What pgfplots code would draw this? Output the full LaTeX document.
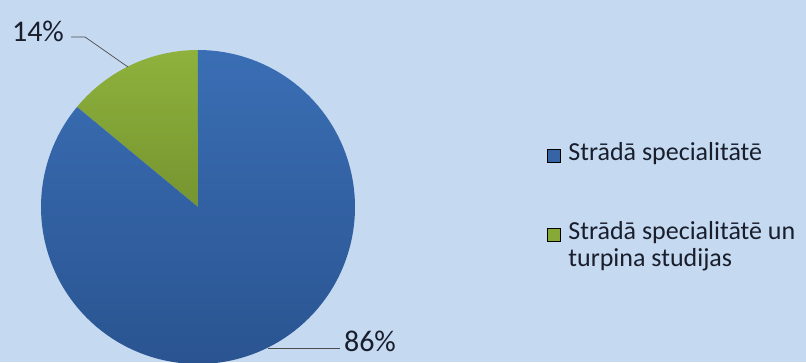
\documentclass[border=0pt]{standalone}
\usepackage{pgfplots}
\pgfplotsset{compat=1.18}
\usepackage{fontspec}
\setmainfont{Carlito}
\definecolor{bgcol}{RGB}{197,217,240}
\definecolor{blueT}{RGB}{58,110,180}
\definecolor{blueB}{RGB}{42,84,145}
\definecolor{greenT}{RGB}{142,178,60}
\definecolor{greenB}{RGB}{118,148,48}
\definecolor{blueL}{RGB}{55,100,165}
\definecolor{greenL}{RGB}{135,170,55}
\definecolor{txt}{RGB}{25,30,45}
\pgfplotsset{sq/.style={legend image code/.code={\fill[##1] (0pt,-8.5pt) rectangle (13pt,4.5pt);}}}
% values (percent)
\def\valA{86}
\def\valB{14}
\begin{document}
\begin{tikzpicture}
\useasboundingbox (0,0) rectangle (806pt,362pt);
\fill[bgcol] (0,0) rectangle (806pt,362pt);
\pgfmathsetmacro{\angB}{90+\valB*3.6}
\pgfmathsetmacro{\angEnd}{90+(\valB+\valA)*3.6}
\begin{axis}[
  at={(0,0)}, anchor=south west,
  width=806pt, height=362pt, scale only axis,
  xmin=0, xmax=806, ymin=0, ymax=362,
  hide axis, clip=true,
  legend style={at={(axis cs:547,221)}, anchor=north west, draw=none, fill=none,
    inner sep=0pt, outer sep=0pt,
    font=\fontsize{26}{28}\selectfont\color{txt},
    row sep=1.5pt,
    nodes={inner sep=0pt, text height=19pt, text depth=6pt},
    column sep=0pt},
  legend cell align=left,
]
\addplot[forget plot, draw=none, top color=greenT, bottom color=greenB,
  domain=90:\angB, samples=60, variable=\t]
  ({198+157*cos(\t)},{155+157*sin(\t)}) -- (axis cs:198,155) -- cycle;
\addplot[forget plot, draw=none, top color=blueT, bottom color=blueB,
  domain=\angB:\angEnd, samples=200, variable=\t]
  ({198+157*cos(\t)},{155+157*sin(\t)}) -- (axis cs:198,155) -- cycle;
\addplot[forget plot, draw=black!70, line width=0.7pt] coordinates {(71,325) (85,325) (128,295)};
\addplot[forget plot, draw=black!70, line width=0.7pt] coordinates {(268,14) (340,14)};
\node[font=\fontsize{30}{32}\selectfont, text=txt] at (axis cs:38,331) {14\%};
\node[font=\fontsize{30}{32}\selectfont, text=txt] at (axis cs:370,21) {86\%};
\addlegendimage{sq, fill=blueL}
\addlegendentry{\hspace*{8pt}Strādā specialitātē}
\addlegendimage{empty legend}
\addlegendentry{}
\addlegendimage{empty legend}
\addlegendentry{}
\addlegendimage{sq, fill=greenL}
\addlegendentry{\hspace*{8pt}Strādā specialitātē un}
\addlegendimage{empty legend}
\addlegendentry{\hspace*{8pt}turpina studijas}
\end{axis}
\end{tikzpicture}
\end{document}
